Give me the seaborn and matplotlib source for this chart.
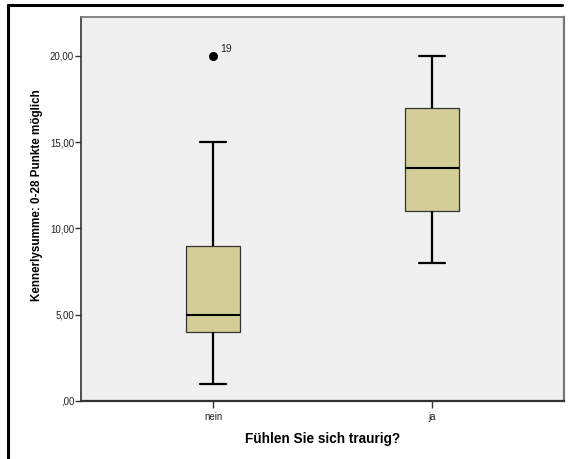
import matplotlib
matplotlib.use("Agg")
import matplotlib.pyplot as plt
from matplotlib.lines import Line2D
import seaborn as sns
import pandas as pd

# Kennerly scores per group
groups = ["nein", "ja"]
scores_nein = [1, 2, 3, 4, 4, 5, 5, 6, 8, 9, 11, 15, 20]
scores_ja = [8, 9, 11, 11, 12, 13, 14, 16, 17, 17, 19, 20]
outlier_label = "19"
outlier_value = 20

y_ticks = [0, 5, 10, 15, 20]
y_ticklabels = [",00", "5,00", "10,00", "15,00", "20,00"]

df = pd.DataFrame({
    "group": ["nein"] * len(scores_nein) + ["ja"] * len(scores_ja),
    "score": scores_nein + scores_ja,
})

sns.set_theme(style="white")
plt.rcParams["font.family"] = ["Liberation Sans", "DejaVu Sans"]

fig = plt.figure(figsize=(5.71, 4.59), dpi=100)
ax = fig.add_axes([0.1419, 0.1264, 0.8458, 0.8366])
ax.set_facecolor("#F0F0F0")

sns.boxplot(
    data=df, x="group", y="score", order=groups, ax=ax,
    color="#D3CE97", saturation=1, width=0.245, linecolor="black",
    boxprops=dict(linewidth=0.9, edgecolor="#333333"),
    whiskerprops=dict(linewidth=1.6),
    capprops=dict(linewidth=1.6),
    medianprops=dict(linewidth=1.5),
    flierprops=dict(marker="o", markersize=5.5, markerfacecolor="black",
                    markeredgecolor="black"),
)

ax.annotate(outlier_label, xy=(0, outlier_value), xytext=(5, 3),
            textcoords="offset points", fontsize=7.5, color="#222222")

ax.set_xlim(-0.603, 1.603)
ax.set_ylim(0, 22.26)
ax.set_yticks(y_ticks)
ax.set_yticklabels(y_ticklabels)

ax.tick_params(axis="both", which="both", direction="out", length=4, width=1,
               colors="#333333", labelsize=7, pad=1, left=True, bottom=True)
ax.tick_params(axis="x", length=5, pad=3)
for lbl in ax.get_xticklabels() + ax.get_yticklabels():
    lbl.set_color("#222222")

ax.set_xlabel("Fühlen Sie sich traurig?", fontsize=9.8, fontweight="bold",
              color="black", labelpad=7)
ax.set_ylabel("Kennerlysumme: 0-28 Punkte möglich", fontsize=8.4,
              fontweight="bold", color="black")
ax.yaxis.set_label_coords(-0.079, 0.535)

ax.spines["left"].set_color("#333333")
ax.spines["bottom"].set_color("#333333")
ax.spines["bottom"].set_linewidth(1.6)
ax.spines["left"].set_linewidth(1.2)
ax.spines["top"].set_color("#777777")
ax.spines["right"].set_color("#777777")
ax.spines["right"].set_linewidth(1.6)
for s in ax.spines.values():
    s.set_visible(True)

# Frame around the chart window
W, H = 571, 459
fig.add_artist(Line2D([7.5 / W, 7.5 / W], [0, 1 - 5 / H], color="black",
                      linewidth=2.2, transform=fig.transFigure))
fig.add_artist(Line2D([7.5 / W, 562 / W], [1 - 5 / H, 1 - 5 / H],
                      color="black", linewidth=2.2, transform=fig.transFigure))

fig.savefig("out.png", dpi=100)
